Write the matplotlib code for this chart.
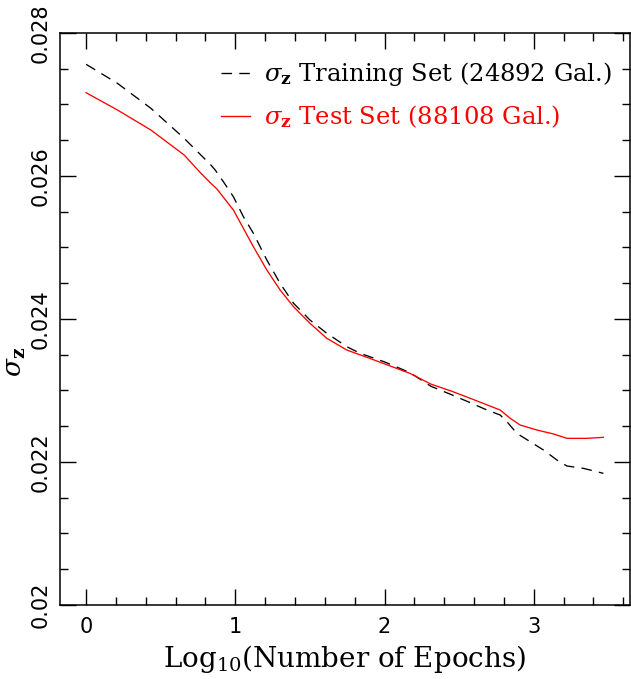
import matplotlib
matplotlib.use("Agg")
import matplotlib.pyplot as plt
from matplotlib.ticker import MultipleLocator, FixedLocator

# log10(epochs) and sigma_z values
x_train = [0.00, 0.21, 0.434, 0.657, 0.836, 0.865, 0.92, 0.987, 1.054, 1.121,
           1.211, 1.30, 1.39, 1.50, 1.613, 1.747, 1.836, 2.00, 2.17, 2.31, 2.45,
           2.574, 2.686, 2.775, 2.82, 2.887, 2.976, 3.065, 3.155, 3.222, 3.333,
           3.467]
sig_train = [0.027562, 0.027296, 0.026947, 0.026527, 0.026154, 0.026084, 0.02592,
             0.02571, 0.025431, 0.025199, 0.024825, 0.024499, 0.02422, 0.023986,
             0.0238, 0.023613, 0.02352, 0.02340, 0.02325, 0.02306, 0.02294,
             0.02283, 0.022727, 0.022657, 0.022564, 0.0224, 0.022284, 0.022168,
             0.022028, 0.021944, 0.021911, 0.021841]

x_test = [0.00, 0.21, 0.434, 0.657, 0.764, 0.836, 0.876, 0.987, 1.054, 1.121,
          1.211, 1.30, 1.39, 1.50, 1.613, 1.747, 1.90, 2.17, 2.31, 2.45, 2.574,
          2.775, 2.842, 2.909, 3.02, 3.132, 3.222, 3.356, 3.467]
sig_test = [0.027165, 0.026923, 0.026643, 0.026294, 0.02605, 0.025898, 0.02582,
            0.025524, 0.025268, 0.025011, 0.024685, 0.024406, 0.024172, 0.02394,
            0.02373, 0.023566, 0.02345, 0.02324, 0.02309, 0.02299, 0.022891,
            0.022727, 0.022611, 0.022517, 0.022448, 0.022392, 0.022331, 0.022331,
            0.022345]

label_train = r"$\sigma_\mathbf{z}$ Training Set (24892 Gal.)"
label_test = r"$\sigma_\mathbf{z}$ Test Set (88108 Gal.)"
xticks = [0, 1, 2, 3]
yticks = [0.02, 0.022, 0.024, 0.026, 0.028]
ytick_labels = ["0.02", "0.022", "0.024", "0.026", "0.028"]

plt.rcParams['mathtext.fontset'] = 'dejavuserif'

fig = plt.figure(figsize=(6.31, 6.79), dpi=100)
ax = fig.add_axes([0.0951, 0.109, 0.9033, 0.8424])

ax.plot(x_train, sig_train, color='black', lw=0.95, linestyle=(0, (8, 5.5)),
        label=label_train)
ax.plot(x_test, sig_test, color='red', lw=0.95, label=label_test)

ax.set_xlim(-0.175, 3.645)
ax.set_ylim(0.02, 0.028)

ax.xaxis.set_major_locator(FixedLocator(xticks))
ax.xaxis.set_minor_locator(MultipleLocator(0.2))
ax.yaxis.set_major_locator(FixedLocator(yticks))
ax.yaxis.set_minor_locator(MultipleLocator(0.0005))
ax.set_yticklabels(ytick_labels, rotation=90, va='center')
ax.set_xticklabels([str(t) for t in xticks])

ax.tick_params(which='both', direction='in', top=True, right=True, width=1.0,
               labelsize=15)
ax.tick_params(which='major', length=11.5)
ax.tick_params(which='minor', length=5.8)
ax.tick_params(axis='x', pad=9)
ax.tick_params(axis='y', pad=7)
for lab in ax.get_xticklabels() + ax.get_yticklabels():
    lab.set_family('DejaVu Sans')
for s in ax.spines.values():
    s.set_linewidth(1.1)

ax.set_xlabel(r"Log$_{10}$(Number of Epochs)", family='DejaVu Serif', fontsize=20,
              labelpad=4)
ax.set_ylabel(r"$\sigma_\mathbf{z}$", fontsize=19)
ax.yaxis.set_label_coords(-0.057, 0.425)

leg = ax.legend(loc='upper left', bbox_to_anchor=(0.283, 0.952), frameon=False,
                prop={'family': 'DejaVu Serif', 'size': 17.5}, handlelength=1.2,
                handletextpad=0.55, labelspacing=0.62, borderpad=0, borderaxespad=0,
                labelcolor='linecolor')

fig.savefig("out.png", dpi=100)
